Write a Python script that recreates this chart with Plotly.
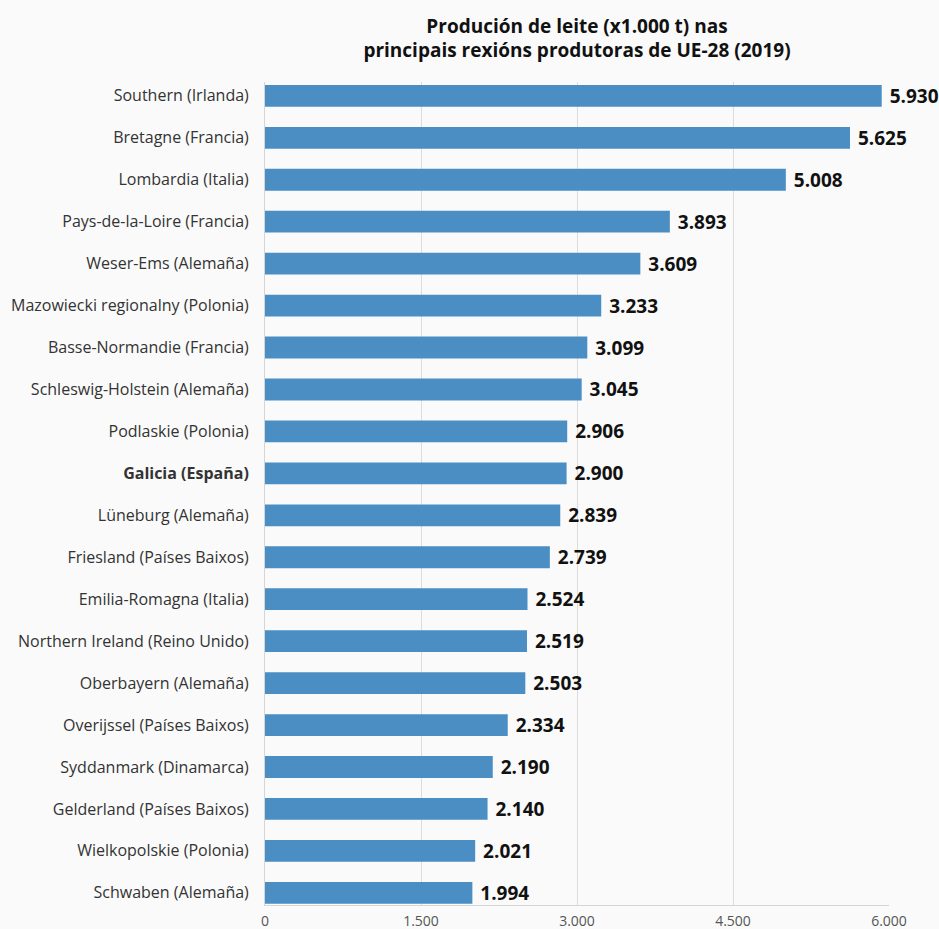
import plotly.graph_objects as go

regions = [
    "Southern (Irlanda)", "Bretagne (Francia)", "Lombardia (Italia)",
    "Pays-de-la-Loire (Francia)", "Weser-Ems (Alemaña)",
    "Mazowiecki regionalny (Polonia)", "Basse-Normandie (Francia)",
    "Schleswig-Holstein (Alemaña)", "Podlaskie (Polonia)", "Galicia (España)",
    "Lüneburg (Alemaña)", "Friesland (Países Baixos)", "Emilia-Romagna (Italia)",
    "Northern Ireland (Reino Unido)", "Oberbayern (Alemaña)",
    "Overijssel (Países Baixos)", "Syddanmark (Dinamarca)",
    "Gelderland (Países Baixos)", "Wielkopolskie (Polonia)", "Schwaben (Alemaña)",
]
values = [5930, 5625, 5008, 3893, 3609, 3233, 3099, 3045, 2906, 2900,
          2839, 2739, 2524, 2519, 2503, 2334, 2190, 2140, 2021, 1994]
highlight = "Galicia (España)"
x_ticks = [0, 1500, 3000, 4500, 6000]

ticktext = [f"<b>{r}</b>" if r == highlight else r for r in regions]
idx = list(range(len(regions)))

fig = go.Figure(go.Bar(
    y=idx, x=values, orientation="h",
    marker=dict(color="#4a8ec4", line=dict(width=0)),
    width=0.52,
    texttemplate=" <b>%{x:,}</b>", textposition="outside",
    textfont=dict(family="Open Sans", size=19, color="#111111"),
    constraintext="none",
    cliponaxis=False,
))

fig.update_layout(
    width=939, height=929,
    paper_bgcolor="#fafafa", plot_bgcolor="#fafafa",
    separators=",.",
    margin=dict(l=265, r=50, t=82, b=24),
    title=dict(
        text="<b>Produción de leite (x1.000 t) nas<br>principais rexións produtoras de UE-28 (2019)</b>",
        x=0.5, xref="paper", xanchor="center", y=0.965, yanchor="top",
        font=dict(family="Open Sans", size=19, color="#111111"),
    ),
    font=dict(family="Open Sans", color="#333333"),
    showlegend=False,
)
fig.update_xaxes(
    range=[0, 6000], tickvals=x_ticks, tickformat=",",
    showgrid=True, gridcolor="#dcdcdc", gridwidth=1,
    zeroline=False, showline=True, linecolor="#d5d5d5",
    tickfont=dict(size=14, color="#555555"), ticks="", ticklabelstandoff=3,
    automargin=False,
)
fig.update_yaxes(
    tickvals=idx, ticktext=ticktext, range=[19.29, -0.33],
    showgrid=False, zeroline=False, showline=True, linecolor="#d5d5d5",
    tickfont=dict(size=16, color="#333333"), ticks="", ticklabelstandoff=12,
    automargin=False,
)

fig.write_html(
    "out.html",
    config={"displayModeBar": False},
    post_script="document.body.style.margin='0';document.body.style.background='#fafafa';document.body.style.overflow='hidden';",
)
